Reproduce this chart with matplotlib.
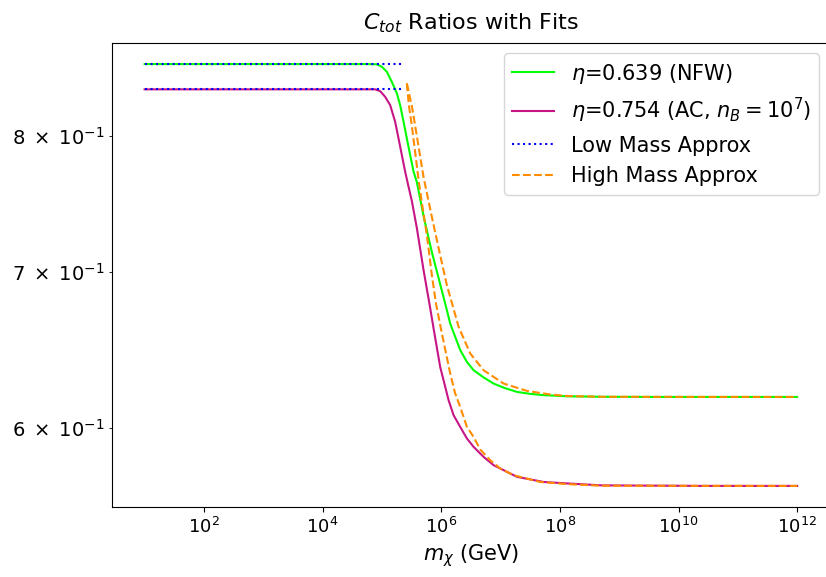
import matplotlib
matplotlib.use("Agg")
import matplotlib.pyplot as plt
import numpy as np


# C_tot ratios vs dark matter mass (log10 of m in GeV)

# eta = 0.639 (NFW)
nfw_logm = np.array([1.0, 4.746, 4.914, 4.999, 5.083, 5.167, 5.252, 5.307, 5.365, 5.420,
                     5.476, 5.534, 5.589, 5.702, 5.842, 5.982, 6.095, 6.151, 6.320, 6.433,
                     6.546, 6.715, 6.883, 7.074, 7.276, 7.496, 7.727, 8.120, 8.711, 9.554,
                     12.0])
nfw_ratio = np.array([0.8588, 0.8588, 0.8586, 0.8566, 0.8523, 0.8439, 0.8344, 0.8248, 0.8114,
                      0.7982, 0.7852, 0.7724, 0.7646, 0.7394, 0.7136, 0.6915, 0.6740, 0.6652,
                      0.6480, 0.6405, 0.6353, 0.6308, 0.6270, 0.6242, 0.6219, 0.6207, 0.6199,
                      0.6192, 0.6189, 0.6188, 0.6188])

# eta = 0.754 (AC, n_B = 1e7)
ac_logm = np.array([1.0, 4.886, 4.970, 5.054, 5.139, 5.223, 5.280, 5.336, 5.392, 5.454,
                    5.505, 5.589, 5.702, 5.814, 5.876, 5.982, 6.124, 6.208, 6.320, 6.433,
                    6.546, 6.715, 6.883, 7.276, 7.727, 8.120, 8.711, 10.398, 12.0])
ac_ratio = np.array([0.8377, 0.8377, 0.8362, 0.8316, 0.8248, 0.8114, 0.7982, 0.7852, 0.7724,
                     0.7601, 0.7504, 0.7307, 0.7011, 0.6753, 0.6608, 0.6374, 0.6168, 0.6078,
                     0.6008, 0.5940, 0.5891, 0.5833, 0.5786, 0.5720, 0.5691, 0.5683, 0.5672,
                     0.5669, 0.5669])

# low mass approximations (constant)
low_logm = np.array([1.0, 5.353])
low_nfw = np.array([0.8588, 0.8588])
low_ac = np.array([0.8377, 0.8377])

# high mass approximations
high_nfw_logm = np.array([5.420, 5.505, 5.589, 5.702, 5.842, 5.982, 6.095, 6.180, 6.293, 6.488,
                          6.714, 7.052, 7.445, 7.838, 8.120, 8.711, 12.0])
high_nfw = np.array([0.8426, 0.8240, 0.8000, 0.7683, 0.7387, 0.7115, 0.6908, 0.6787, 0.6630,
                     0.6459, 0.6353, 0.6270, 0.6225, 0.6203, 0.6194, 0.6189, 0.6188])

high_ac_logm = np.array([5.420, 5.454, 5.505, 5.556, 5.618, 5.674, 5.758, 5.842, 5.910, 6.011,
                         6.151, 6.235, 6.320, 6.433, 6.546, 6.657, 6.826, 6.995, 7.221, 7.670,
                         8.120, 8.711, 12.0])
high_ac = np.array([0.8426, 0.8248, 0.8079, 0.7891, 0.7661, 0.7489, 0.7257, 0.6976, 0.6787,
                    0.6587, 0.6333, 0.6209, 0.6127, 0.6008, 0.5949, 0.5876, 0.5814, 0.5767,
                    0.5729, 0.5691, 0.5679, 0.5670, 0.5669])

labels = [r"$\eta$=0.639 (NFW)", r"$\eta$=0.754 (AC, $n_B=10^7$)",
          "Low Mass Approx", "High Mass Approx"]

y_ticks = [0.6, 0.7, 0.8]
y_ticklabels = [r"$6\;\times\;10^{-1}$", r"$7\;\times\;10^{-1}$", r"$8\;\times\;10^{-1}$"]


fig = plt.figure(figsize=(8.26, 5.77), dpi=100)
ax = fig.add_axes([0.1356, 0.1213, 0.869, 0.8042])

ax.plot(10**nfw_logm, nfw_ratio, "-", color="lime", lw=1.5, label=labels[0])
ax.plot(10**ac_logm, ac_ratio, "-", color="mediumvioletred", lw=1.5, label=labels[1])
ax.plot(10**low_logm, low_nfw, ":", color="blue", lw=1.5, label=labels[2])
ax.plot(10**low_logm, low_ac, ":", color="blue", lw=1.5)
ax.plot(10**high_nfw_logm, high_nfw, "--", color="darkorange", lw=1.5, label=labels[3])
ax.plot(10**high_ac_logm, high_ac, "--", color="darkorange", lw=1.5)

ax.set_xscale("log")
ax.set_yscale("log")
ax.set_yticks(y_ticks, minor=True)
ax.set_yticklabels(y_ticklabels, minor=True)

ax.tick_params(which="both", labelsize=13)
ax.tick_params(axis="y", which="minor", labelsize=14)
ax.set_xlabel(r"$m_\chi$ (GeV)", fontsize=15)
ax.set_title(r"$C_{tot}$ Ratios with Fits", fontsize=16, pad=10)
ax.legend(fontsize=15, loc="upper right")

fig.savefig("out.png", dpi=100)
